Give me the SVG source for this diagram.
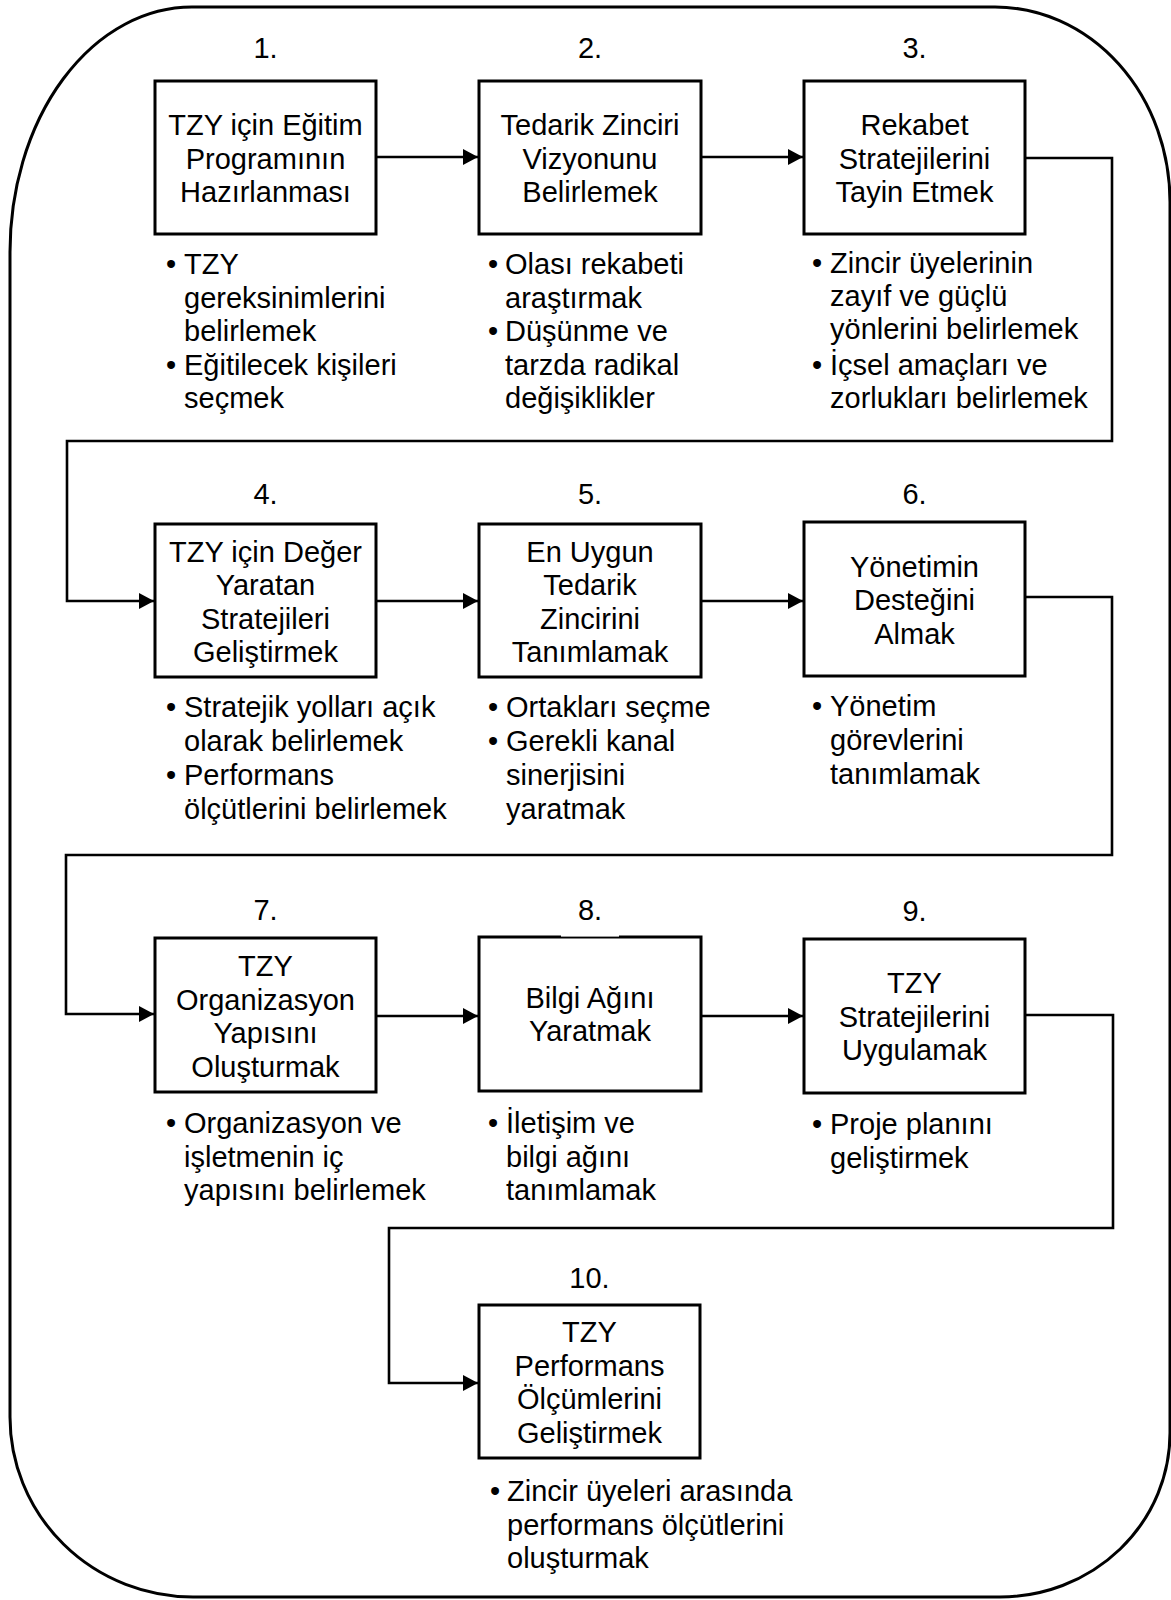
<svg xmlns="http://www.w3.org/2000/svg" width="1171" height="1600" viewBox="0 0 1171 1600">
  <style>
    .box { fill: #ffffff; stroke: #000000; stroke-width: 3; }
    .t { font-family: "Liberation Sans", Arial, sans-serif; font-size: 29px; fill: #000000; }
    .c { text-anchor: middle; }
    .conn { fill: none; stroke: #000000; stroke-width: 2.6; marker-end: url(#arr); }
    .frame { fill: none; stroke: #000000; stroke-width: 3; }
  </style>
  <defs>
    <marker id="arr" markerUnits="userSpaceOnUse" markerWidth="16" markerHeight="16" refX="15" refY="8" orient="auto">
      <path d="M0,0 L15,8 L0,16 z" fill="#000000"/>
    </marker>
  </defs>

  <rect width="1171" height="1600" fill="#ffffff"/>

  <!-- rounded outer frame -->
  <g id="frame">
    <path class="frame" d="M192,7 L995,7 A175,195 0 0 1 1170,202 L1170,1433 A170,164 0 0 1 1000,1597 L193,1597 A183,180 0 0 1 10,1417 L10,252 A182,245 0 0 1 192,7 Z"/>
  </g>

  <!-- connectors -->
  <g id="connectors">
    <path class="conn" d="M376,157 L478,157"/>
    <path class="conn" d="M701,157 L803,157"/>
    <path class="conn" d="M1025,158 L1112,158 L1112,441 L67,441 L67,601 L154,601"/>
    <path class="conn" d="M376,601 L478,601"/>
    <path class="conn" d="M701,601 L803,601"/>
    <path class="conn" d="M1025,597 L1112,597 L1112,855 L66,855 L66,1014 L154,1014"/>
    <path class="conn" d="M376,1016 L478,1016"/>
    <path class="conn" d="M701,1016 L803,1016"/>
    <path class="conn" d="M1025,1015 L1113,1015 L1113,1228 L389,1228 L389,1383 L478,1383"/>
  </g>

  <!-- step 1 -->
  <g id="node1">
    <text class="t c" x="265.5" y="58">1.</text>
    <rect class="box" x="155" y="81" width="221" height="153"/>
    <text class="t c"><tspan x="265.5" y="135">TZY için Eğitim</tspan><tspan x="265.5" y="168.5">Programının</tspan><tspan x="265.5" y="202">Hazırlanması</tspan></text>
    <text class="t c"><tspan x="171" y="274">•</tspan><tspan x="171" y="374.5">•</tspan></text>
    <text class="t"><tspan x="184" y="274">TZY</tspan><tspan x="184" y="307.5">gereksinimlerini</tspan><tspan x="184" y="341">belirlemek</tspan><tspan x="184" y="374.5">Eğitilecek kişileri</tspan><tspan x="184" y="408">seçmek</tspan></text>
  </g>

  <!-- step 2 -->
  <g id="node2">
    <text class="t c" x="590" y="58">2.</text>
    <rect class="box" x="479" y="81" width="222" height="153"/>
    <text class="t c"><tspan x="590" y="135">Tedarik Zinciri</tspan><tspan x="590" y="168.5">Vizyonunu</tspan><tspan x="590" y="202">Belirlemek</tspan></text>
    <text class="t c"><tspan x="493" y="274">•</tspan><tspan x="493" y="341">•</tspan></text>
    <text class="t"><tspan x="505" y="274">Olası rekabeti</tspan><tspan x="505" y="307.5">araştırmak</tspan><tspan x="505" y="341">Düşünme ve</tspan><tspan x="505" y="374.5">tarzda radikal</tspan><tspan x="505" y="408">değişiklikler</tspan></text>
  </g>

  <!-- step 3 -->
  <g id="node3">
    <text class="t c" x="914.5" y="58">3.</text>
    <rect class="box" x="804" y="81" width="221" height="153"/>
    <text class="t c"><tspan x="914.5" y="135">Rekabet</tspan><tspan x="914.5" y="168.5">Stratejilerini</tspan><tspan x="914.5" y="202">Tayin Etmek</tspan></text>
    <text class="t c"><tspan x="817" y="273">•</tspan><tspan x="817" y="374.5">•</tspan></text>
    <text class="t"><tspan x="830" y="273">Zincir üyelerinin</tspan><tspan x="830" y="306">zayıf ve güçlü</tspan><tspan x="830" y="339">yönlerini belirlemek</tspan><tspan x="830" y="374.5">İçsel amaçları ve</tspan><tspan x="830" y="408">zorlukları belirlemek</tspan></text>
  </g>

  <!-- step 4 -->
  <g id="node4">
    <text class="t c" x="265.5" y="504">4.</text>
    <rect class="box" x="155" y="524" width="221" height="153"/>
    <text class="t c"><tspan x="265.5" y="561.5">TZY için Değer</tspan><tspan x="265.5" y="595">Yaratan</tspan><tspan x="265.5" y="628.5">Stratejileri</tspan><tspan x="265.5" y="662">Geliştirmek</tspan></text>
    <text class="t c"><tspan x="171" y="717">•</tspan><tspan x="171" y="785">•</tspan></text>
    <text class="t"><tspan x="184" y="717">Stratejik yolları açık</tspan><tspan x="184" y="751">olarak belirlemek</tspan><tspan x="184" y="785">Performans</tspan><tspan x="184" y="819">ölçütlerini belirlemek</tspan></text>
  </g>

  <!-- step 5 -->
  <g id="node5">
    <text class="t c" x="590" y="504">5.</text>
    <rect class="box" x="479" y="524" width="222" height="153"/>
    <text class="t c"><tspan x="590" y="561.5">En Uygun</tspan><tspan x="590" y="595">Tedarik</tspan><tspan x="590" y="628.5">Zincirini</tspan><tspan x="590" y="662">Tanımlamak</tspan></text>
    <text class="t c"><tspan x="493" y="717">•</tspan><tspan x="493" y="751">•</tspan></text>
    <text class="t"><tspan x="506" y="717">Ortakları seçme</tspan><tspan x="506" y="751">Gerekli kanal</tspan><tspan x="506" y="785">sinerjisini</tspan><tspan x="506" y="819">yaratmak</tspan></text>
  </g>

  <!-- step 6 -->
  <g id="node6">
    <text class="t c" x="914.5" y="504">6.</text>
    <rect class="box" x="804" y="522" width="221" height="154"/>
    <text class="t c"><tspan x="914.5" y="576.5">Yönetimin</tspan><tspan x="914.5" y="610">Desteğini</tspan><tspan x="914.5" y="643.5">Almak</tspan></text>
    <text class="t c"><tspan x="817" y="716">•</tspan></text>
    <text class="t"><tspan x="830" y="716">Yönetim</tspan><tspan x="830" y="750">görevlerini</tspan><tspan x="830" y="784">tanımlamak</tspan></text>
  </g>

  <!-- step 7 -->
  <g id="node7">
    <text class="t c" x="265.5" y="920">7.</text>
    <rect class="box" x="155" y="938" width="221" height="154"/>
    <text class="t c"><tspan x="265.5" y="976">TZY</tspan><tspan x="265.5" y="1009.5">Organizasyon</tspan><tspan x="265.5" y="1043">Yapısını</tspan><tspan x="265.5" y="1076.5">Oluşturmak</tspan></text>
    <text class="t c"><tspan x="171" y="1133">•</tspan></text>
    <text class="t"><tspan x="184" y="1133">Organizasyon ve</tspan><tspan x="184" y="1166.5">işletmenin iç</tspan><tspan x="184" y="1200">yapısını belirlemek</tspan></text>
  </g>

  <!-- step 8 -->
  <g id="node8">
    <rect class="box" x="479" y="937" width="222" height="154"/>
    <rect x="561" y="934" width="58" height="2.6" fill="#ffffff"/>
    <text class="t c" x="590" y="920">8.</text>
    <text class="t c"><tspan x="590" y="1007.5">Bilgi Ağını</tspan><tspan x="590" y="1041">Yaratmak</tspan></text>
    <text class="t c"><tspan x="493" y="1133">•</tspan></text>
    <text class="t"><tspan x="506" y="1133">İletişim ve</tspan><tspan x="506" y="1166.5">bilgi ağını</tspan><tspan x="506" y="1200">tanımlamak</tspan></text>
  </g>

  <!-- step 9 -->
  <g id="node9">
    <text class="t c" x="914.5" y="921">9.</text>
    <rect class="box" x="804" y="939" width="221" height="154"/>
    <text class="t c"><tspan x="914.5" y="993">TZY</tspan><tspan x="914.5" y="1026.5">Stratejilerini</tspan><tspan x="914.5" y="1060">Uygulamak</tspan></text>
    <text class="t c"><tspan x="817" y="1134">•</tspan></text>
    <text class="t"><tspan x="830" y="1134">Proje planını</tspan><tspan x="830" y="1168">geliştirmek</tspan></text>
  </g>

  <!-- step 10 -->
  <g id="node10">
    <text class="t c" x="589.5" y="1288">10.</text>
    <rect class="box" x="479" y="1305" width="221" height="153"/>
    <text class="t c"><tspan x="589.5" y="1342">TZY</tspan><tspan x="589.5" y="1375.5">Performans</tspan><tspan x="589.5" y="1409">Ölçümlerini</tspan><tspan x="589.5" y="1442.5">Geliştirmek</tspan></text>
    <text class="t c"><tspan x="495" y="1501">•</tspan></text>
    <text class="t"><tspan x="507" y="1501">Zincir üyeleri arasında</tspan><tspan x="507" y="1535">performans ölçütlerini</tspan><tspan x="507" y="1568">oluşturmak</tspan></text>
  </g>
</svg>
